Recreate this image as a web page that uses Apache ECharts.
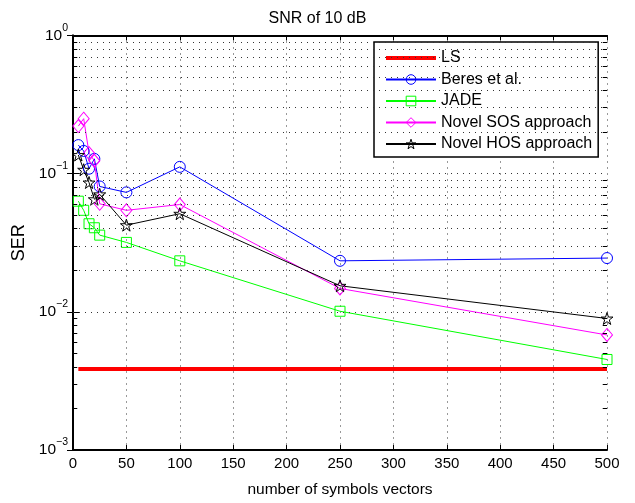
<!DOCTYPE html>
<html>
<head>
<meta charset="utf-8">
<script src="https://cdn.jsdelivr.net/npm/echarts@6/dist/echarts.min.js"></script>
<style>html,body{margin:0;padding:0;background:#fff}#c{width:635px;height:503px}</style>
</head>
<body>
<div id="c"></div>
<script>
var xVals = [5, 10, 15, 20, 25, 50, 100, 250, 500];
var lsX = [5, 500];
var lsSER = [0.00385, 0.00385];
var beresSER = [0.161, 0.146, 0.1086, 0.128, 0.0808, 0.0732, 0.112, 0.0234, 0.0245];
var jadeSER = [0.0632, 0.0543, 0.0434, 0.0406, 0.0359, 0.0318, 0.0234, 0.0101, 0.00452];
var sosSER = [0.221, 0.250, 0.141, 0.124, 0.0605, 0.0543, 0.0598, 0.01476, 0.0068];
var hosSER = [0.1365, 0.1068, 0.0863, 0.0653, 0.0709, 0.0424, 0.0513, 0.01544, 0.00895];
var xTicks = [0, 50, 100, 150, 200, 250, 300, 350, 400, 450, 500];
var seriesNames = ['LS', 'Beres et al.', 'JADE', 'Novel SOS approach', 'Novel HOS approach'];
var minorGridVals = [];
[0.001, 0.01, 0.1].forEach(function (d) { for (var k = 2; k <= 9; k++) minorGridVals.push(+(d * k).toPrecision(3)); });

function pairs(xs, ys) { return xs.map(function (x, i) { return [x, ys[i]]; }); }
var FONT = 'Liberation Sans, Arial, Helvetica, sans-serif';
var starPath = 'path://M50,0 L61.8,35.4 L99,35.4 L69,57.3 L80.4,92.7 L50,70.8 L19.6,92.7 L31,57.3 L1,35.4 L38.2,35.4 Z';
var dotted = { color: '#333', width: 1, type: [1, 5] };
var tickLine = { color: '#000', width: 1, type: 'solid' };

// minor tick segments at 2..9 of each decade, on the left and right frame edges
var minorTickData = [];
minorGridVals.forEach(function (v) {
  minorTickData.push([{ coord: [0, v] }, { coord: [4, v] }]);
  minorTickData.push([{ coord: [496, v] }, { coord: [500, v] }]);
});

var chart = echarts.init(document.getElementById('c'), null, { renderer: 'canvas' });
function supLabel(v) {
  var e = Math.round(Math.log10(v));
  return '{b|10}{s|' + (e < 0 ? '\u2212' + (-e) : e) + '}';
}
var hollow = function (c) { return { color: 'rgba(0,0,0,0)', borderColor: c, borderWidth: 1 }; };
var option = {
  animation: false,
  backgroundColor: '#fff',
  textStyle: { fontFamily: FONT },
  title: { text: 'SNR of 10 dB', left: 'center', top: 6, textStyle: { fontFamily: FONT, fontSize: 16, fontWeight: 'normal', color: '#000' } },
  grid: { left: 73, right: 28, top: 35.5, bottom: 46, containLabel: false },
  legend: {
    orient: 'vertical', left: 374, top: 42,
    data: [
      { name: 'LS', itemStyle: { opacity: 0 }, lineStyle: { color: '#ff0000', width: 4 } },
      { name: 'Beres et al.', itemStyle: hollow('#0000ff') },
      { name: 'JADE', itemStyle: hollow('#00ff00') },
      { name: 'Novel SOS approach', itemStyle: hollow('#ff00ff') },
      { name: 'Novel HOS approach', itemStyle: hollow('#000000') }
    ],
    itemWidth: 50, itemHeight: 12, itemGap: 5.5,
    borderColor: '#000', borderWidth: 1.5, backgroundColor: '#fff',
    padding: [8, 6, 5, 10],
    textStyle: { fontFamily: FONT, fontSize: 16, color: '#000' }
  },
  xAxis: [{
    type: 'value', min: 0, max: 500, interval: 50,
    name: 'number of symbols vectors', nameLocation: 'middle', nameGap: 32,
    nameTextStyle: { fontFamily: FONT, fontSize: 15.5, color: '#000' },
    axisLine: { onZero: false, lineStyle: { color: '#000', width: 2 } },
    axisTick: { inside: true, length: 5, lineStyle: { color: '#000' } },
    axisLabel: { fontFamily: FONT, fontSize: 15, color: '#000', margin: 6, formatter: function (v) { return xTicks.indexOf(v) >= 0 ? String(v) : ''; } },
    splitLine: { show: true, lineStyle: dotted }
  }, {
    type: 'value', min: 0, max: 500, interval: 50, position: 'top',
    axisLine: { onZero: false, lineStyle: { color: '#000', width: 2 } },
    axisTick: { inside: true, length: 5, lineStyle: { color: '#000' } },
    axisLabel: { show: false }, splitLine: { show: false }
  }],
  yAxis: [{
    type: 'log', logBase: 10, min: 0.001, max: 1,
    name: 'SER', nameLocation: 'middle', nameGap: 42,
    nameTextStyle: { fontFamily: FONT, fontSize: 18, color: '#000' },
    axisLine: { lineStyle: { color: '#000', width: 2 } },
    axisTick: { inside: true, length: 6, lineStyle: { color: '#000' } },
    axisLabel: {
      formatter: supLabel, margin: 5, color: '#000',
      rich: {
        b: { fontFamily: FONT, fontSize: 15.5, color: '#000', lineHeight: 26, verticalAlign: 'middle' },
        s: { fontFamily: FONT, fontSize: 10.5, color: '#000', lineHeight: 26, verticalAlign: 'top' }
      }
    },
    splitLine: { show: true, lineStyle: dotted }
  }, {
    type: 'log', logBase: 10, min: 0.001, max: 1, position: 'right',
    axisLine: { lineStyle: { color: '#000', width: 2 } },
    axisTick: { inside: true, length: 6, lineStyle: { color: '#000' } },
    axisLabel: { show: false }, splitLine: { show: false }
  }],
  series: [
    {
      name: '__grid', type: 'line', data: [], silent: true, z: 0,
      markLine: { silent: true, symbol: 'none', label: { show: false }, lineStyle: dotted,
        data: minorGridVals.map(function (v) { return { yAxis: v }; }) }
    },
    {
      name: '__ticks', type: 'line', data: [], silent: true, z: 1,
      markLine: { silent: true, symbol: 'none', label: { show: false }, lineStyle: tickLine, data: minorTickData }
    },
    { name: 'LS', type: 'line', data: pairs(lsX, lsSER), showSymbol: false, symbol: 'none', lineStyle: { color: '#ff0000', width: 4 }, itemStyle: { color: '#ff0000' }, z: 3 },
    { name: 'Beres et al.', type: 'line', data: pairs(xVals, beresSER), symbol: 'circle', symbolSize: 11, lineStyle: { color: '#0000ff', width: 1 }, itemStyle: hollow('#0000ff'), z: 4 },
    { name: 'JADE', type: 'line', data: pairs(xVals, jadeSER), symbol: 'rect', symbolSize: 10, lineStyle: { color: '#00ff00', width: 1 }, itemStyle: hollow('#00ff00'), z: 4 },
    { name: 'Novel SOS approach', type: 'line', data: pairs(xVals, sosSER), symbol: 'diamond', symbolSize: [11, 13], lineStyle: { color: '#ff00ff', width: 1 }, itemStyle: hollow('#ff00ff'), z: 4 },
    { name: 'Novel HOS approach', type: 'line', data: pairs(xVals, hosSER), symbol: starPath, symbolSize: 12, lineStyle: { color: '#000', width: 1 }, itemStyle: hollow('#000000'), z: 4 }
  ]
};
chart.setOption(option);
</script>
</body>
</html>
